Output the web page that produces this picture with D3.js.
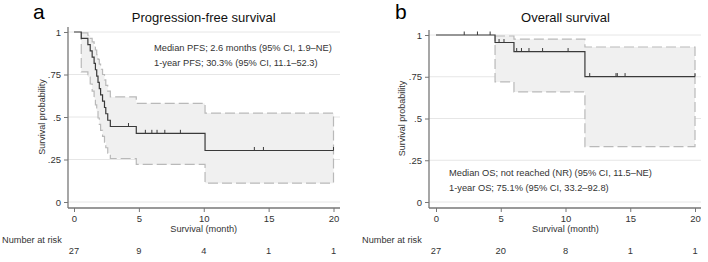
<!DOCTYPE html>
<html lang="en">
<head>
    <meta charset="UTF-8">
    <title>Kaplan-Meier curves</title>
    <script src="https://d3js.org/d3.v7.min.js"></script>
    <style>
        body { margin: 0; background: #fff; }
        svg text { font-family: "Liberation Sans", Arial, sans-serif; fill: #333; }
    </style>
</head>
<body>
<div id="chart"></div>
<script>
// axis ticks
const monthTicks = [0, 5, 10, 15, 20];
const probTicks = [0, 0.25, 0.5, 0.75, 1];
const probLabels = ["0", ".25", ".5", ".75", "1"];

// progression-free survival (step times in months, estimate and 95% CI)
const pfsTime  = [0, 0.56, 1.07, 1.25, 1.4, 1.55, 1.65, 1.75, 1.85, 1.95, 2.05, 2.2, 2.35, 2.45, 2.6, 2.8, 4.8, 10.1];
const pfsSurv  = [1, .963, .926, .889, .852, .815, .778, .741, .704, .667, .630, .593, .556, .519, .481, .444, .404, .303];
const pfsLower = [null, .765, .735, .694, .652, .611, .571, .532, .494, .457, .421, .386, .352, .319, .287, .256, .221, .111];
const pfsUpper = [null, .995, .981, .963, .942, .918, .894, .867, .839, .811, .781, .750, .718, .686, .652, .618, .580, .523];
const pfsCensor = [4.2, 5.5, 6.0, 6.4, 7.0, 8.2, 13.9, 14.6, 20];
const pfsRisk = [27, 9, 4, 1, 1];

// overall survival
const osTime  = [0, 4.56, 6.02, 11.5];
const osSurv  = [1, .955, .901, .751];
const osLower = [null, .719, .659, .332];
const osUpper = [null, .994, .975, .928];
const osCensor = [2.18, 3.2, 4.18, 4.87, 5.25, 6.23, 6.6, 7.18, 8.23, 10.2, 11.87, 13.9, 14.0, 14.6, 20];
const osRisk = [27, 20, 8, 1, 1];

const width = 708, height = 262;
const svg = d3.select("#chart").append("svg")
    .attr("width", width)
    .attr("height", height);

function drawPanel(p) {
    const x = d3.scaleLinear().domain([0, 20]).range([p.x0, p.x1]);
    const y = d3.scaleLinear().domain([0, 1]).range([p.y0, p.y1]);
    const g = svg.append("g");

    // grid lines
    g.selectAll(".grid").data(probTicks).enter().append("line")
        .attr("x1", p.axisX).attr("x2", p.gridEnd)
        .attr("y1", d => y(d)).attr("y2", d => y(d))
        .attr("stroke", "#e6e6e6").attr("stroke-width", 1);

    // confidence band
    const band = p.time.map((t, i) => ({ t: t, lo: p.lower[i], hi: p.upper[i] }))
        .filter(d => d.lo !== null);
    band.push({ t: 20, lo: band[band.length - 1].lo, hi: band[band.length - 1].hi });
    const area = d3.area()
        .x(d => x(d.t)).y0(d => y(d.lo)).y1(d => y(d.hi))
        .curve(d3.curveStepAfter);
    g.append("path").attr("d", area(band))
        .attr("fill", "#f0f0f0")
        .attr("stroke", "#b9b9b9").attr("stroke-width", 1.2)
        .attr("stroke-dasharray", "10,4");

    // KM estimate
    const pts = p.time.map((t, i) => [t, p.surv[i]]);
    pts.push([20, p.surv[p.surv.length - 1]]);
    const line = d3.line().x(d => x(d[0])).y(d => y(d[1])).curve(d3.curveStepAfter);
    g.append("path").attr("d", line(pts))
        .attr("fill", "none").attr("stroke", "#3a3a3a").attr("stroke-width", 1.2);

    // censor marks
    const survAt = t => p.surv[d3.bisectRight(p.time, t) - 1];
    g.selectAll(".cens").data(p.censor).enter().append("line")
        .attr("x1", d => x(d)).attr("x2", d => x(d))
        .attr("y1", d => y(survAt(d))).attr("y2", d => y(survAt(d)) - 3.5)
        .attr("stroke", "#3a3a3a").attr("stroke-width", 1);

    // y axis
    g.append("line").attr("x1", p.axisX).attr("x2", p.axisX)
        .attr("y1", p.y1 - 5).attr("y2", p.axisY)
        .attr("stroke", "#777").attr("stroke-width", 1.3);
    const yAxis = g.append("g").attr("transform", `translate(${p.axisX},0)`)
        .call(d3.axisLeft(y).tickValues(probTicks).tickSize(4).tickPadding(3)
            .tickFormat((d, i) => probLabels[i]));
    yAxis.select(".domain").remove();
    yAxis.selectAll("line").attr("stroke", "#777");
    yAxis.selectAll("text").attr("font-size", "9.5px").attr("fill", "#333")
        .style("font-family", "Liberation Sans, Arial, sans-serif");

    // x axis
    g.append("line").attr("x1", p.axisX).attr("x2", p.gridEnd)
        .attr("y1", p.axisY).attr("y2", p.axisY)
        .attr("stroke", "#777").attr("stroke-width", 1.3);
    const xAxis = g.append("g").attr("transform", `translate(0,${p.axisY})`)
        .call(d3.axisBottom(x).tickValues(monthTicks).tickSize(4).tickPadding(3));
    xAxis.select(".domain").remove();
    xAxis.selectAll("line").attr("stroke", "#777");
    xAxis.selectAll("text").attr("font-size", "9.5px").attr("fill", "#333")
        .style("font-family", "Liberation Sans, Arial, sans-serif");

    // titles
    g.append("text").attr("x", (p.x0 + p.x1) / 2).attr("y", 232)
        .attr("text-anchor", "middle").attr("font-size", "9.2px")
        .text("Survival (month)");
    g.append("text")
        .attr("transform", `translate(${p.ylabX},${(p.y0 + p.y1) / 2}) rotate(-90)`)
        .attr("text-anchor", "middle").attr("font-size", "9px")
        .text("Survival probability");
    g.append("text").attr("x", (p.x0 + p.x1) / 2).attr("y", 22)
        .attr("text-anchor", "middle").attr("font-size", "13px").style("fill", "#111")
        .text(p.title);
    g.append("text").attr("x", p.letterX).attr("y", 19)
        .attr("font-size", "21px").style("fill", "#000")
        .text(p.letter);

    // annotations
    p.notes.forEach((n, i) => {
        g.append("text").attr("x", p.noteX).attr("y", p.noteY + i * 15)
            .attr("font-size", "9.3px").text(n);
    });

    // number at risk
    g.append("text").attr("x", p.riskX).attr("y", 243)
        .attr("font-size", "9.2px").text("Number at risk");
    g.selectAll(".risk").data(p.risk).enter().append("text")
        .attr("x", (d, i) => x(monthTicks[i])).attr("y", 254)
        .attr("text-anchor", "middle").attr("font-size", "9.3px")
        .text(d => d);
}

drawPanel({
    letter: "a", letterX: 33, title: "Progression-free survival",
    x0: 74, x1: 333.5, y0: 202, y1: 32, axisX: 68, axisY: 208, gridEnd: 340,
    ylabX: 45, riskX: 2,
    time: pfsTime, surv: pfsSurv, lower: pfsLower, upper: pfsUpper,
    censor: pfsCensor, risk: pfsRisk,
    noteX: 154, noteY: 51,
    notes: ["Median PFS; 2.6 months (95% CI, 1.9\u2013NE)", "1-year PFS; 30.3% (95% CI, 11.1\u201352.3)"]
});

drawPanel({
    letter: "b", letterX: 395, title: "Overall survival",
    x0: 436, x1: 695, y0: 202, y1: 35, axisX: 429, axisY: 208, gridEnd: 701,
    ylabX: 405, riskX: 362,
    time: osTime, surv: osSurv, lower: osLower, upper: osUpper,
    censor: osCensor, risk: osRisk,
    noteX: 449, noteY: 176,
    notes: ["Median OS; not reached (NR) (95% CI, 11.5\u2013NE)", "1-year OS; 75.1% (95% CI, 33.2\u201392.8)"]
});
</script>
</body>
</html>
